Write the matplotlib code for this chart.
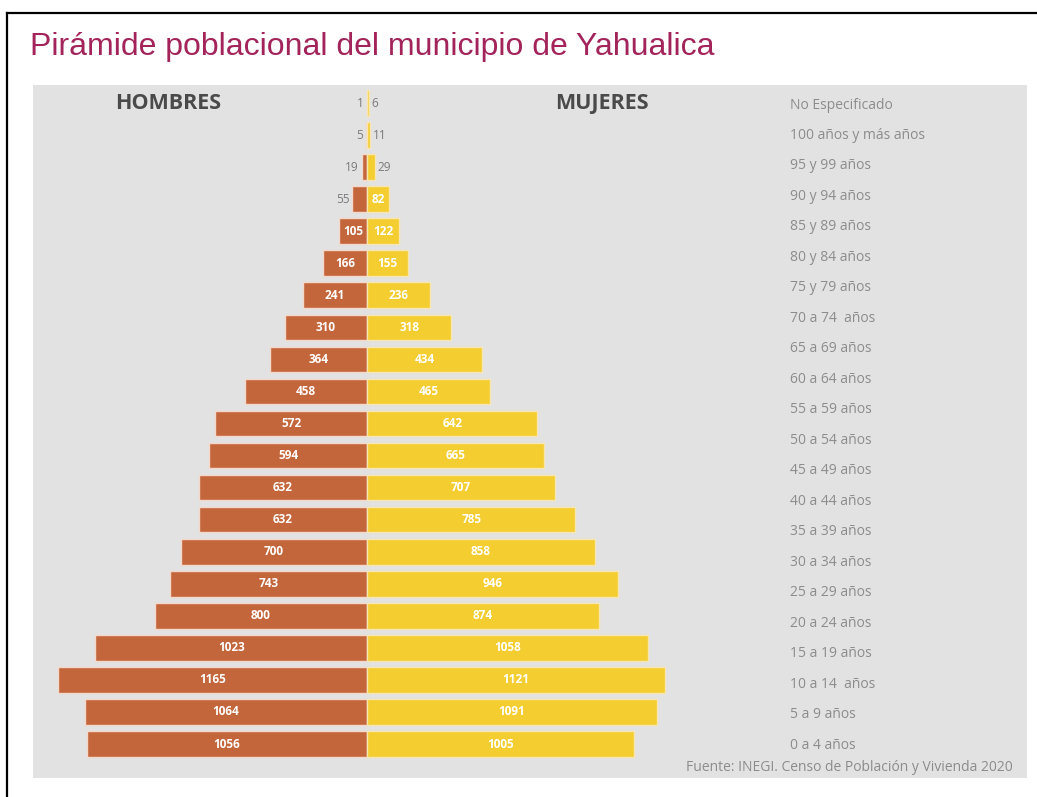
import matplotlib
matplotlib.use("Agg")
import matplotlib.pyplot as plt
from matplotlib.lines import Line2D
import numpy as np

W, H = 1037, 797

age_groups = [
    "No Especificado", "100 años y más años", "95 y 99 años", "90 y 94 años",
    "85 y 89 años", "80 y 84 años", "75 y 79 años", "70 a 74  años",
    "65 a 69 años", "60 a 64 años", "55 a 59 años", "50 a 54 años",
    "45 a 49 años", "40 a 44 años", "35 a 39 años", "30 a 34 años",
    "25 a 29 años", "20 a 24 años", "15 a 19 años", "10 a 14  años",
    "5 a 9 años", "0 a 4 años",
]
hombres = [1, 5, 19, 55, 105, 166, 241, 310, 364, 458, 572, 594, 632, 632,
           700, 743, 800, 1023, 1165, 1064, 1056]
mujeres = [6, 11, 29, 82, 122, 155, 236, 318, 434, 465, 642, 665, 707, 785,
           858, 946, 874, 1058, 1121, 1091, 1005]

title = "Pirámide poblacional del municipio de Yahualica"
source = "Fuente: INEGI. Censo de Población y Vivienda 2020"

MALE = "#c4663b"
FEMALE = "#f4cd30"
PANEL = "#e2e2e2"
LABEL_GREY = "#8c8c8c"


def px_rect(x0, y0, x1, y1):
    return [x0 / W, 1 - y1 / H, (x1 - x0) / W, (y1 - y0) / H]


fig = plt.figure(figsize=(W / 100, H / 100), dpi=100)
fig.patch.set_facecolor("white")

# frame lines (top and left of the screenshot border)
fig.add_artist(Line2D([7 / W, 7 / W], [0, 1 - 13 / H], color="black", lw=1.6,
                      transform=fig.transFigure))
fig.add_artist(Line2D([7 / W, 1], [1 - 13 / H, 1 - 13 / H], color="black", lw=1.6,
                      transform=fig.transFigure))

fig.text(30 / W, 1 - 55 / H, title, fontsize=23, color="#a3245a",
         family="Liberation Sans", va="baseline", ha="left")

ax = fig.add_axes(px_rect(33, 85, 1027, 778))
ax.set_facecolor(PANEL)
for s in ax.spines.values():
    s.set_visible(False)
ax.set_xticks([])
ax.set_yticks([])

scale = 0.2655  # px per person
ax.set_xlim(-334 / scale, 660 / scale)
n = len(hombres)
pos = np.arange(n)
step = 32.05
ax.set_ylim((778 - 103) / step, (85 - 103) / step)

ax.barh(pos, [-v for v in hombres], height=0.8, color=MALE,
        edgecolor="#f3d9cc", linewidth=1.0)
ax.barh(pos, mujeres, height=0.8, color=FEMALE,
        edgecolor="#f7e6b0", linewidth=1.0)

for y, v in zip(pos, hombres):
    if v < 60:
        ax.text(-v - 12, y, str(v), ha="right", va="center", fontsize=8.5,
                color="#7a7a7a", family="Open Sans")
    else:
        ax.text(-v / 2, y, str(v), ha="center", va="center", fontsize=8.5,
                color="white", fontweight="bold", family="Open Sans")
for y, v in zip(pos, mujeres):
    if v < 60:
        ax.text(v + 12, y, str(v), ha="left", va="center", fontsize=8.5,
                color="#7a7a7a", family="Open Sans")
    else:
        ax.text(v / 2, y, str(v), ha="center", va="center", fontsize=8.5,
                color="white", fontweight="bold", family="Open Sans")

ax.text(-(367 - 168) / scale, 0, "HOMBRES", ha="center", va="center",
        fontsize=15.5, fontweight="bold", color="#4a4a4a", family="Open Sans")
ax.text((602 - 367) / scale, 0, "MUJERES", ha="center", va="center",
        fontsize=15.5, fontweight="bold", color="#4a4a4a", family="Open Sans")

# age group labels sit on their own grid, offset from the bars
label_pos = np.linspace((105 - 103) / step, (745 - 103) / step, len(age_groups))
for y, lab in zip(label_pos, age_groups):
    ax.text((790 - 367) / scale, y, lab, ha="left", va="center", fontsize=10,
            color=LABEL_GREY, family="Open Sans")

ax.text((1013 - 367) / scale, (767 - 103) / step, source, ha="right",
        va="center", fontsize=10, color=LABEL_GREY, family="Open Sans")

fig.savefig("out.png", dpi=100, facecolor=fig.get_facecolor())
